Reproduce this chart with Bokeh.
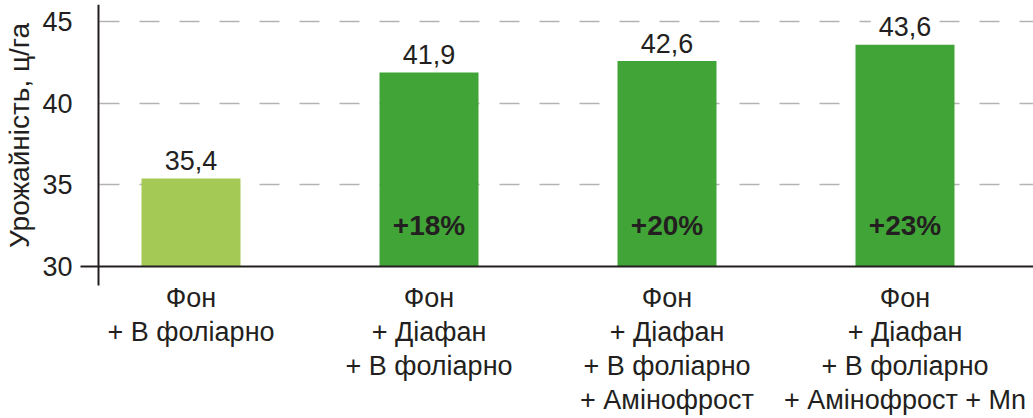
import numpy as np
from bokeh.plotting import figure
from bokeh.models import Range1d, FixedTicker, Span
from bokeh.core.properties import value
from bokeh.embed import file_html
from bokeh.resources import INLINE

# ---- data ----
categories = [
    "Фон\n+ В фоліарно",
    "Фон\n+ Діафан\n+ В фоліарно",
    "Фон\n+ Діафан\n+ В фоліарно\n+ Амінофрост",
    "Фон\n+ Діафан\n+ В фоліарно\n+ Амінофрост + Mn",
]
yields = [35.4, 41.9, 42.6, 43.6]
y_ticks = [30, 35, 40, 45]
y_title = "Урожайність, ц/га"
bar_colors = ["#a5c955", "#41a437", "#41a437", "#41a437"]

pos = list(np.arange(len(categories)) + 0.5)
base = yields[0]
pct = [""] + [f"+{round((v / base - 1) * 100)}%" for v in yields[1:]]
val_labels = [f"{v:.1f}".replace(".", ",") for v in yields]

FONT = "Liberation Sans"
INK = "#231f20"
X0, X1 = 0.0357, 4.0399
AXIS_X = 0.1113  # x position of the vertical axis line (data units)

p = figure(width=1033, height=418, output_backend="svg", toolbar_location=None,
           x_range=Range1d(X0, X1), y_range=Range1d(30, 46.07),
           min_border_left=80, min_border_right=0, min_border_top=4,
           min_border_bottom=152)
p.outline_line_color = None
p.background_fill_color = "white"

# grid
p.xgrid.grid_line_color = None
p.ygrid.ticker = FixedTicker(ticks=y_ticks)
p.ygrid.grid_line_color = "#b3b3b3"
p.ygrid.grid_line_width = 1.5
p.ygrid.grid_line_dash = "20 20"
p.ygrid.grid_line_dash_offset = 21

# y axis
p.yaxis.ticker = FixedTicker(ticks=y_ticks)
p.yaxis.axis_line_color = None
p.yaxis.major_tick_line_color = None
p.yaxis.minor_tick_line_color = None
p.yaxis.major_tick_out = 0
p.yaxis.major_tick_in = 0
p.yaxis.minor_tick_out = 0
p.yaxis.minor_tick_in = 0
p.yaxis.major_label_standoff = 8
p.yaxis.major_label_text_font = FONT
p.yaxis.major_label_text_font_size = "27px"
p.yaxis.major_label_text_color = INK
p.yaxis.axis_label = y_title
p.yaxis.axis_label_text_font = FONT
p.yaxis.axis_label_text_font_style = "normal"
p.yaxis.axis_label_text_font_size = "28px"
p.yaxis.axis_label_text_color = INK
p.yaxis.axis_label_standoff = 4

# x axis
p.xaxis.ticker = FixedTicker(ticks=pos, minor_ticks=[AXIS_X])
p.xaxis.major_label_overrides = {float(x): c for x, c in zip(pos, categories)}
p.xaxis.axis_line_color = INK
p.xaxis.axis_line_width = 2
p.xaxis.major_tick_line_color = None
p.xaxis.major_tick_out = 0
p.xaxis.major_tick_in = 0
p.xaxis.minor_tick_line_color = INK
p.xaxis.minor_tick_line_width = 2
p.xaxis.minor_tick_out = 19
p.xaxis.minor_tick_in = 0
p.xaxis.major_label_standoff = -3
p.xaxis.major_label_text_font = FONT
p.xaxis.major_label_text_font_size = "27px"
p.xaxis.major_label_text_color = INK
p.xaxis.major_label_text_line_height = 1.137

# vertical axis line
p.add_layout(Span(location=AXIS_X, dimension="height", line_color=INK, line_width=2))

# bars
p.vbar(x=pos, top=yields, bottom=y_ticks[0], width=0.416, color=bar_colors, line_color=None)

# value labels
p.text(x=pos, y=yields, text=val_labels, text_align="center", text_baseline="alphabetic",
       y_offset=-18, text_font=value(FONT), text_font_size="27px", text_color=INK,
       background_fill_color="white", padding=dict(left=8, right=8, top=2, bottom=2))

# percent labels inside bars
p.text(x=pos, y=[y_ticks[0]] * len(pos), text=pct, text_align="center", text_baseline="middle",
       y_offset=-41, text_font=value(FONT), text_font_size="28px", text_font_style="bold",
       text_color=INK)

open("out.html", "w").write(file_html(p, INLINE))
